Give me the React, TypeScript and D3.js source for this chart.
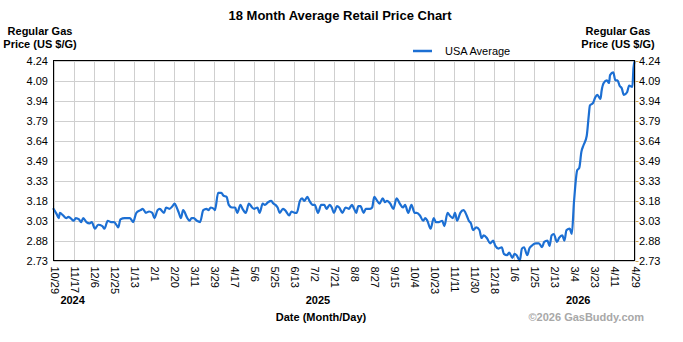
import React from "react";
import * as d3 from "d3";

const chartTitle = "18 Month Average Retail Price Chart";
const seriesName = "USA Average";
const totalDays = 547; // 10/29/2024 .. 4/29/2026

const xTickLabels = ["10/29","11/17","12/6","12/25","1/13","2/1","2/20","3/11","3/29","4/17","5/6","5/25","6/13","7/2","7/21","8/8","8/27","9/15","10/4","10/23","11/11","11/30","12/18","1/6","1/25","2/13","3/4","3/23","4/11","4/29"];
const yTickLabels = ["2.73","2.88","3.03","3.18","3.33","3.49","3.64","3.79","3.94","4.09","4.24"];
const yearLabels = ["2024", "2025", "2026"];
const yearDays = [18, 249, 494];

// [days since 10/29/2024, USD per gallon]
const usaAverage: [number, number][] = [
[0,3.12],[3,3.08],[5,3.05],[6,3.09],[9,3.07],[12,3.05],[14,3.06],[16,3.05],[19,3.03],[21,3.05],[24,3.04],[26,3.02],[28,3.05],[31,3.02],[34,3.01],[36,3.02],[39,2.97],[42,3.00],[46,2.99],[48,2.97],[51,3.03],[54,3.02],[57,3.02],[60,2.99],[61,2.98],[63,3.04],[67,3.05],[70,3.05],[72,3.05],[75,3.02],[78,3.09],[82,3.11],[84,3.12],[87,3.09],[90,3.10],[93,3.09],[95,3.05],[98,3.11],[100,3.12],[104,3.09],[106,3.13],[109,3.12],[112,3.14],[114,3.16],[116,3.13],[118,3.09],[120,3.05],[122,3.11],[126,3.05],[128,3.03],[130,3.05],[132,3.05],[135,3.03],[138,3.02],[141,3.11],[144,3.12],[146,3.11],[148,3.13],[151,3.12],[152,3.11],[155,3.24],[158,3.24],[160,3.22],[163,3.21],[165,3.15],[168,3.13],[171,3.13],[173,3.09],[176,3.15],[178,3.12],[181,3.09],[184,3.16],[187,3.13],[189,3.12],[192,3.13],[194,3.09],[197,3.16],[199,3.15],[202,3.17],[205,3.18],[207,3.16],[209,3.15],[211,3.13],[213,3.09],[216,3.12],[218,3.11],[222,3.07],[224,3.10],[227,3.09],[229,3.09],[232,3.18],[234,3.20],[236,3.18],[239,3.21],[241,3.18],[244,3.15],[246,3.15],[249,3.09],[252,3.15],[255,3.15],[257,3.12],[260,3.15],[262,3.13],[264,3.09],[267,3.14],[269,3.13],[272,3.09],[275,3.13],[278,3.12],[281,3.15],[283,3.12],[285,3.09],[287,3.14],[289,3.14],[292,3.09],[294,3.12],[298,3.12],[300,3.13],[302,3.21],[304,3.19],[307,3.16],[310,3.20],[312,3.17],[314,3.18],[317,3.16],[320,3.12],[323,3.20],[326,3.16],[329,3.13],[331,3.15],[334,3.09],[337,3.15],[340,3.09],[342,3.09],[345,3.07],[348,3.03],[350,3.05],[352,3.03],[355,2.97],[358,3.05],[360,3.02],[363,3.02],[366,3.03],[368,2.99],[371,3.09],[373,3.07],[376,3.05],[378,3.09],[380,3.03],[383,3.09],[386,3.11],[389,3.07],[391,3.03],[393,3.01],[395,2.96],[398,2.98],[401,2.96],[403,2.90],[405,2.92],[408,2.90],[411,2.86],[414,2.88],[416,2.84],[419,2.82],[422,2.83],[424,2.78],[427,2.77],[429,2.79],[432,2.75],[434,2.78],[436,2.77],[439,2.73],[441,2.82],[443,2.83],[446,2.77],[448,2.82],[450,2.84],[454,2.86],[457,2.86],[460,2.83],[462,2.87],[465,2.88],[467,2.84],[469,2.92],[471,2.93],[474,2.87],[476,2.90],[479,2.92],[481,2.88],[483,2.96],[486,2.97],[488,2.93],[490,3.17],[491,3.27],[493,3.41],[495,3.43],[497,3.55],[499,3.60],[502,3.67],[504,3.83],[505,3.90],[508,3.92],[510,3.96],[512,3.98],[515,3.95],[516,4.01],[518,4.07],[521,4.09],[523,4.07],[524,4.13],[527,4.15],[529,4.09],[531,4.09],[533,4.05],[535,4.03],[537,3.98],[540,4.00],[542,4.05],[545,4.04],[546,4.18],[547,4.23]
];

const W = 683, H = 342;
const plot = { left: 53.5, right: 634.5, top: 60.5, bottom: 260.5 };
const font = "'Liberation Sans', Arial, Helvetica, sans-serif";
const lineColor = "#1c6fd3";

export default function App() {
  const xDay = d3.scaleLinear().domain([0, totalDays]).range([plot.left, plot.right]);
  const xTick = d3.scaleLinear().domain([0, xTickLabels.length - 1]).range([plot.left, plot.right]);
  const y = d3.scaleLinear().domain([2.73, 4.24]).range([plot.bottom, plot.top]);
  const yTick = d3.scaleLinear().domain([0, yTickLabels.length - 1]).range([plot.bottom, plot.top]);
  const line = d3.line<[number, number]>().x(d => xDay(d[0])).y(d => y(d[1])).curve(d3.curveMonotoneX);

  return (
    <svg width={W} height={H} style={{ position: "absolute", left: 0, top: 0, display: "block", background: "#fff" }} fontFamily={font}>
      <rect x={0} y={0} width={W} height={H} fill="#fff" />
      <text x={340} y={15} textAnchor="middle" dominantBaseline="central" fontSize={13} fontWeight="bold" fill="#000">{chartTitle}</text>

      <text x={40} y={31} textAnchor="middle" dominantBaseline="central" fontSize={11} fontWeight="bold">Regular Gas</text>
      <text x={40} y={44} textAnchor="middle" dominantBaseline="central" fontSize={11} fontWeight="bold">Price (US $/G)</text>
      <text x={618} y={31} textAnchor="middle" dominantBaseline="central" fontSize={11} fontWeight="bold">Regular Gas</text>
      <text x={618} y={44} textAnchor="middle" dominantBaseline="central" fontSize={11} fontWeight="bold">Price (US $/G)</text>

      <line x1={413} x2={432} y1={51} y2={51} stroke={lineColor} strokeWidth={2.5} />
      <text x={445} y={51} dominantBaseline="central" fontSize={11} fill="#000">{seriesName}</text>

      {xTickLabels.map((_, i) => (
        <line key={"vg" + i} x1={Math.round(xTick(i)) + 0.5} x2={Math.round(xTick(i)) + 0.5} y1={plot.top} y2={plot.bottom} stroke="#cfcfcf" strokeWidth={1} />
      ))}
      {yTickLabels.map((_, i) => (
        <line key={"hg" + i} x1={plot.left} x2={plot.right} y1={Math.round(yTick(i)) + 0.5} y2={Math.round(yTick(i)) + 0.5} stroke="#cfcfcf" strokeWidth={1} />
      ))}

      <path d={line(usaAverage) || ""} fill="none" stroke={lineColor} strokeWidth={2.2} strokeLinejoin="round" strokeLinecap="round" />

      <rect x={plot.left} y={plot.top} width={plot.right - plot.left} height={plot.bottom - plot.top} fill="none" stroke="#000" strokeWidth={1} />

      {yTickLabels.map((t, i) => (
        <g key={"yt" + i}>
          <text x={48} y={yTick(i)} textAnchor="end" dominantBaseline="central" fontSize={11} fill="#000">{t}</text>
          <line x1={plot.right + 1} x2={plot.right + 4} y1={Math.round(yTick(i)) + 0.5} y2={Math.round(yTick(i)) + 0.5} stroke="#c8a050" strokeWidth={1} />
          <text x={639} y={yTick(i)} textAnchor="start" dominantBaseline="central" fontSize={11} fill="#000">{t}</text>
        </g>
      ))}

      {xTickLabels.map((t, i) => (
        <text key={"xt" + i} transform={`translate(${xTick(i) + 1},${plot.bottom + 6}) rotate(90)`} dominantBaseline="central" fontSize={11} fill="#000">{t}</text>
      ))}

      {yearLabels.map((t, i) => (
        <text key={"yr" + i} x={xDay(yearDays[i])} y={300} textAnchor="middle" dominantBaseline="central" fontSize={11} fontWeight="bold">{t}</text>
      ))}

      <text x={321} y={317} textAnchor="middle" dominantBaseline="central" fontSize={11} fontWeight="bold">Date (Month/Day)</text>
      <text x={644} y={317} textAnchor="end" dominantBaseline="central" fontSize={11} fontWeight="bold" fill="#a8a8a8">©2026 GasBuddy.com</text>
    </svg>
  );
}
